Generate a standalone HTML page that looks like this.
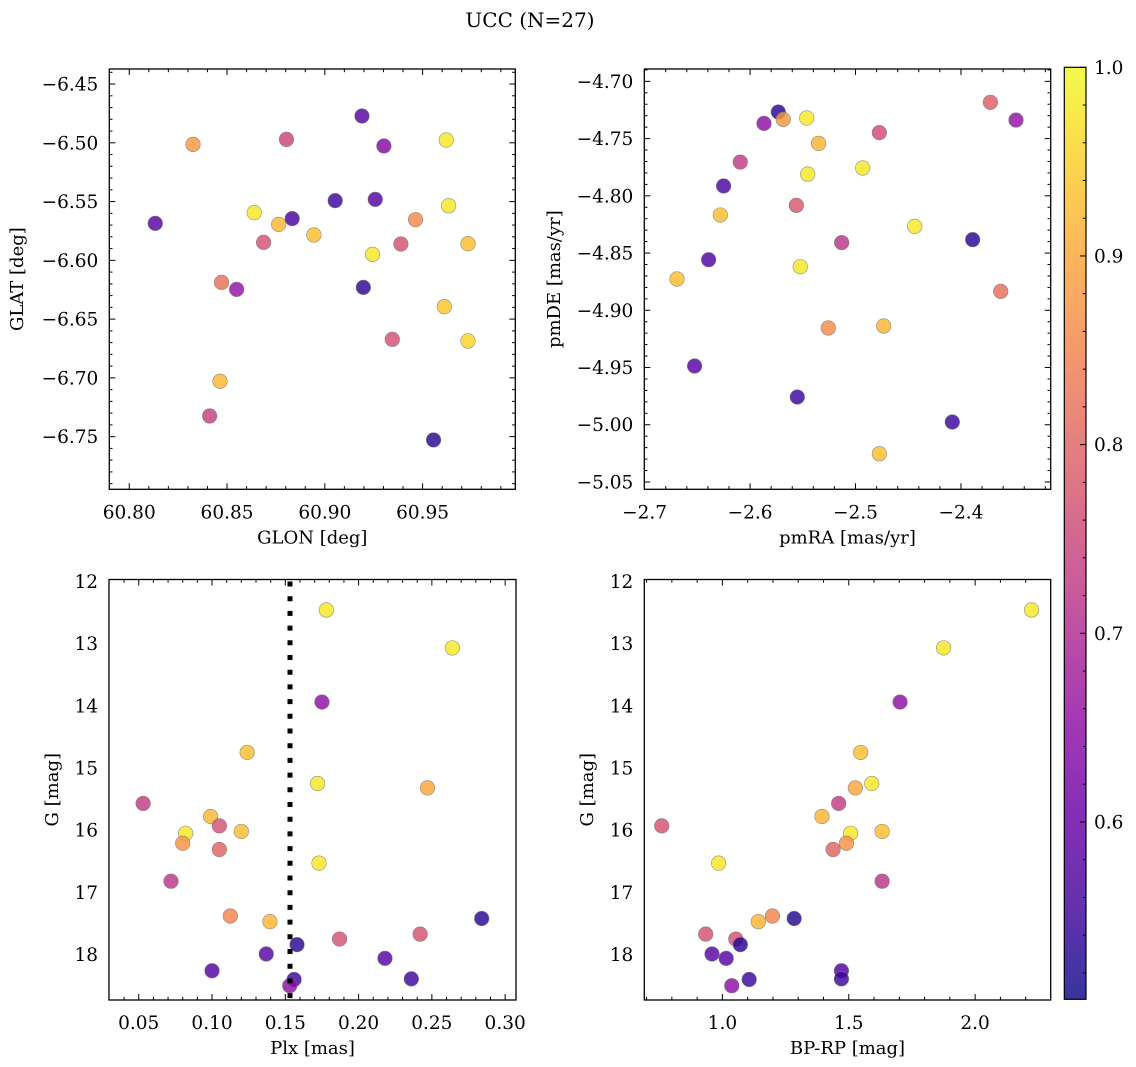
<!DOCTYPE html>
<html><head><meta charset="utf-8"><style>
html,body{margin:0;padding:0;background:#fff;}
svg{display:block;font-family:"DejaVu Serif","Liberation Serif",serif;}
</style></head><body>
<svg id="fig" width="1136" height="1067" viewBox="0 0 1136 1067" xmlns="http://www.w3.org/2000/svg">
<defs>
<linearGradient id="cbgrad" x1="0" y1="1" x2="0" y2="0"></linearGradient>
</defs>
<text x="530" y="27" font-size="20" text-anchor="middle">UCC (N=27)</text>
</svg>
<script>
// Panel 1: GLON / GLAT
const glon = [60.8133,60.8326,60.8464,60.8411,60.8472,60.8549,60.8639,60.8687,60.8764,60.8804,60.8833,60.8944,60.9053,60.9190,60.9302,60.9258,60.9244,60.9197,60.9389,60.9345,60.9464,60.9556,60.9621,60.9633,60.9611,60.9732,60.9732];
const glat = [-6.5685,-6.5013,-6.7029,-6.7324,-6.6187,-6.6247,-6.5594,-6.5847,-6.5694,-6.4971,-6.5645,-6.5784,-6.5492,-6.4772,-6.5027,-6.5481,-6.5949,-6.6230,-6.5861,-6.6672,-6.5654,-6.7528,-6.4976,-6.5535,-6.6394,-6.5858,-6.6686];
const probPos = [0.58,0.88,0.92,0.74,0.82,0.66,0.98,0.77,0.92,0.75,0.56,0.93,0.55,0.58,0.64,0.58,0.98,0.54,0.77,0.77,0.86,0.53,0.98,0.98,0.94,0.93,0.96];
// Panel 2: pmRA / pmDE
const pmra = [-2.5732,-2.5685,-2.5868,-2.5463,-2.5350,-2.4774,-2.6093,-2.5454,-2.4932,-2.6251,-2.5561,-2.6282,-2.4439,-2.3889,-2.5131,-2.6393,-2.5524,-2.6693,-2.3721,-2.3478,-2.3623,-2.5258,-2.4733,-2.6526,-2.5552,-2.4082,-2.4774];
const pmde = [-4.7268,-4.7332,-4.7367,-4.7320,-4.7542,-4.7448,-4.7705,-4.7810,-4.7757,-4.7914,-4.8083,-4.8168,-4.8267,-4.8383,-4.8409,-4.8558,-4.8619,-4.8727,-4.7183,-4.7338,-4.8835,-4.9155,-4.9137,-4.9487,-4.9758,-4.9976,-5.0253];
const probPm = [0.53,0.88,0.65,0.98,0.92,0.76,0.73,0.98,0.98,0.57,0.78,0.93,0.98,0.53,0.72,0.57,0.98,0.93,0.79,0.66,0.82,0.86,0.92,0.58,0.55,0.55,0.93];
// Panels 3 & 4: Plx, BP-RP, G
const plx  = [0.178,0.264,0.175,0.124,0.172,0.247,0.053,0.099,0.105,0.082,0.080,0.120,0.105,0.173,0.072,0.1125,0.1395,0.284,0.242,0.187,0.158,0.137,0.218,0.100,0.156,0.236,0.153];
const bprp = [2.223,1.875,1.703,1.547,1.591,1.526,1.460,1.394,0.760,1.507,1.491,1.632,1.438,0.985,1.632,1.198,1.142,1.284,0.934,1.053,1.071,0.959,1.015,1.471,1.106,1.471,1.037];
const gmag = [12.46,13.07,13.94,14.75,15.25,15.32,15.57,15.78,15.93,16.05,16.21,16.02,16.31,16.53,16.82,17.38,17.47,17.42,17.67,17.75,17.84,17.99,18.06,18.26,18.40,18.39,18.50];
const probPhot = [0.98,0.98,0.65,0.93,0.98,0.90,0.73,0.92,0.77,0.98,0.87,0.93,0.80,0.98,0.72,0.85,0.92,0.53,0.77,0.77,0.53,0.58,0.58,0.57,0.55,0.55,0.65];
const plxLine = [0.1532];
// Ticks
const ticksGlon = [60.80,60.85,60.90,60.95];
const ticksGlat = [-6.45,-6.50,-6.55,-6.60,-6.65,-6.70,-6.75];
const ticksPmra = [-2.7,-2.6,-2.5,-2.4];
const ticksPmde = [-4.70,-4.75,-4.80,-4.85,-4.90,-4.95,-5.00,-5.05];
const ticksPlx = [0.05,0.10,0.15,0.20,0.25,0.30];
const ticksBprp = [1.0,1.5,2.0];
const ticksG = [12,13,14,15,16,17,18];
const ticksCb = [0.6,0.7,0.8,0.9,1.0];

const NS="http://www.w3.org/2000/svg";
const svg=document.getElementById('fig');
function mk(tag,attrs,parent){const e=document.createElementNS(NS,tag);for(const k in attrs)e.setAttribute(k,attrs[k]);(parent||svg).appendChild(e);return e;}

const plasma=[[13,8,135],[65,4,157],[106,0,168],[143,13,164],[177,42,144],[204,71,120],[225,100,98],[242,132,75],[252,166,54],[252,206,37],[240,249,33]];
function cmap(t){t=Math.max(0,Math.min(1,t));const f=t*10,i=Math.min(9,Math.floor(f)),r=f-i;const a=plasma[i],b=plasma[i+1];return 'rgb('+[0,1,2].map(k=>Math.round(a[k]+(b[k]-a[k])*r)).join(',')+')';}
const vmin=0.506,vmax=1.0;
const norm=p=>(p-vmin)/(vmax-vmin);

function minus(s){return s.replace('-','\u2212');}

function panel(o){
  const g=mk('g',{});
  
  
  const X=v=>o.x0+(v-o.xmin)/(o.xmax-o.xmin)*(o.x1-o.x0);
  const Y=v=>o.y0+(v-o.ymax)/(o.ymin-o.ymax)*(o.y1-o.y0);
  for(let i=0;i<o.xs.length;i++){
    const c=mk('circle',{cx:X(o.xs[i]),cy:Y(o.ys[i]),r:7.3,fill:cmap(norm(o.ps[i])),'fill-opacity':0.82,stroke:'#777','stroke-width':0.6,'stroke-opacity':0.8},g);
    
    
  }
  if(o.vline){for(const v of o.vline){const l=mk('line',{x1:X(v),x2:X(v),y1:o.y0+2,y2:o.y1,stroke:'#000','stroke-width':5,'stroke-dasharray':'5,9.7'},g);
    
    }}
  const fr=mk('rect',{x:o.x0,y:o.y0,width:o.x1-o.x0,height:o.y1-o.y0,fill:'none',stroke:'#000','stroke-width':1.3},g);
  
  
  const eps=1e-9;
  for(let v=Math.ceil(o.xmin/o.xminor-eps)*o.xminor; v<=o.xmax+eps; v+=o.xminor){
    const px=X(v);if(px<o.x0+0.5||px>o.x1-0.5)continue;
    const major=o.xt.some(t=>Math.abs(t-v)<o.xminor/10);
    const L=major?6:3.2;
    mk('line',{x1:px,x2:px,y1:o.y1,y2:o.y1-L,stroke:'#000','stroke-width':1},g);
    mk('line',{x1:px,x2:px,y1:o.y0,y2:o.y0+L,stroke:'#000','stroke-width':1},g);
  }
  for(let v=Math.ceil(o.ymin/o.yminor-eps)*o.yminor; v<=o.ymax+eps; v+=o.yminor){
    const py=Y(v);if(py<o.y0+0.5||py>o.y1-0.5)continue;
    const major=o.yt.some(t=>Math.abs(t-v)<o.yminor/10);
    const L=major?6:3.2;
    mk('line',{x1:o.x0,x2:o.x0+L,y1:py,y2:py,stroke:'#000','stroke-width':1},g);
    mk('line',{x1:o.x1,x2:o.x1-L,y1:py,y2:py,stroke:'#000','stroke-width':1},g);
  }
  for(const t of o.xt){const tx=mk('text',{x:X(t),y:o.y1+29,'font-size':18.5,'text-anchor':'middle'},g);tx.textContent=minus(t.toFixed(o.xd));
    
    }
  for(const t of o.yt){const tx=mk('text',{x:o.x0-11,y:Y(t)+6.5,'font-size':18.5,'text-anchor':'end'},g);tx.textContent=minus(t.toFixed(o.yd));
    
    }
  const xl=mk('text',{x:(o.x0+o.x1)/2,y:o.y1+54,'font-size':18,'text-anchor':'middle'},g);xl.textContent=o.xlabel;
  
  
  const yl=mk('text',{x:0,y:0,'font-size':18,'text-anchor':'middle',transform:'translate('+o.ylx+','+((o.y0+o.y1)/2)+') rotate(-90)'},g);yl.textContent=o.ylabel;
  
  
}

panel({name:'glon-glat-panel',x0:109.3,x1:515.3,y0:69,y1:489.3,xmin:60.7898,xmax:60.9974,ymin:-6.7948,ymax:-6.4372,
  xs:glon,ys:glat,ps:probPos,xt:ticksGlon,yt:ticksGlat,xminor:0.01,yminor:0.01,xd:2,yd:2,xlabel:'GLON [deg]',ylabel:'GLAT [deg]',ylx:23});
panel({name:'pm-panel',x0:644.3,x1:1050.7,y0:69,y1:489.3,xmin:-2.7003,xmax:-2.3149,ymin:-5.0564,ymax:-4.6892,
  xs:pmra,ys:pmde,ps:probPm,xt:ticksPmra,yt:ticksPmde,xminor:0.02,yminor:0.01,xd:1,yd:2,xlabel:'pmRA [mas/yr]',ylabel:'pmDE [mas/yr]',ylx:560});
panel({name:'plx-g-panel',x0:109,x1:516,y0:579.5,y1:1000,xmin:0.0297,xmax:0.3074,ymin:18.73,ymax:11.97,
  xs:plx,ys:gmag,ps:probPhot,xt:ticksPlx,yt:ticksG,xminor:0.01,yminor:0.2,xd:2,yd:0,xlabel:'Plx [mas]',ylabel:'G [mag]',ylx:58,vline:plxLine});
panel({name:'cmd-panel',x0:644.3,x1:1050.7,y0:579.5,y1:1000,xmin:0.691,xmax:2.299,ymin:18.73,ymax:11.97,
  xs:bprp,ys:gmag,ps:probPhot,xt:ticksBprp,yt:ticksG,xminor:0.1,yminor:0.2,xd:1,yd:0,xlabel:'BP-RP [mag]',ylabel:'G [mag]',ylx:593});

const grad=document.getElementById('cbgrad');
for(let i=0;i<=20;i++){mk('stop',{offset:(i/20),'stop-color':cmap(i/20),'stop-opacity':0.82},grad);}
const cb=mk('g',{});


const cx0=1064.3,cx1=1086,cy0=67.3,cy1=999.3;
const CY=v=>cy1-(v-vmin)/(vmax-vmin)*(cy1-cy0);
mk('rect',{x:cx0,y:cy0,width:cx1-cx0,height:cy1-cy0,fill:'url(#cbgrad)',stroke:'#000','stroke-width':1.2},cb);
for(let v=0.52; v<=1.0001; v+=0.02){const py=CY(v);const major=ticksCb.some(t=>Math.abs(t-v)<0.002);
  mk('line',{x1:cx1,x2:cx1-(major?6:3.2),y1:py,y2:py,stroke:'#000','stroke-width':1},cb);}
for(const t of ticksCb){const tx=mk('text',{x:1094,y:CY(t)+6.5,'font-size':18.5},cb);tx.textContent=t.toFixed(1);
  
  }
</script>
</body></html>
